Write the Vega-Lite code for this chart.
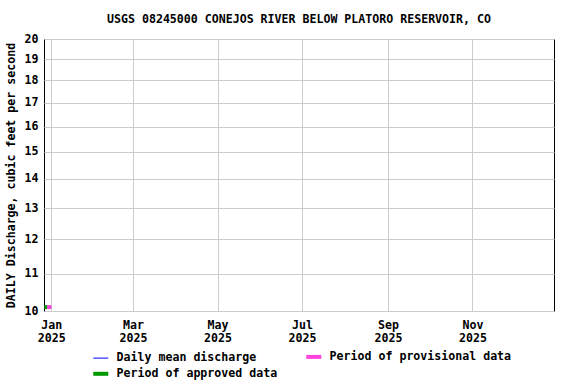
{
  "$schema": "https://vega.github.io/schema/vega-lite/v6.json",
  "width": 510,
  "height": 272,
  "autosize": {"type": "none"},
  "padding": {"left": 44, "top": 39, "right": 22, "bottom": 73},
  "background": "white",
  "config": {
    "view": {"stroke": "black", "strokeWidth": 1},
    "font": "DejaVu Sans Mono"
  },
  "title": {
    "text": "USGS 08245000 CONEJOS RIVER BELOW PLATORO RESERVOIR, CO",
    "font": "DejaVu Sans Mono",
    "fontSize": 11.6,
    "fontWeight": "bold",
    "color": "black",
    "offset": 7,
    "anchor": "middle"
  },
  "data": {
    "values": [
      {"date": "2024-12-27", "value": 10.1, "series": "Daily mean discharge"},
      {"date": "2024-12-28", "value": 10.1, "series": "Daily mean discharge"},
      {"date": "2024-12-29", "value": 10.1, "series": "Daily mean discharge"},
      {"date": "2024-12-30", "value": 10.1, "series": "Daily mean discharge"},
      {"date": "2024-12-31", "value": 10.1, "series": "Daily mean discharge"},
      {"date": "2025-01-01", "value": 10.1, "series": "Daily mean discharge"},
      {"date": "2024-12-27", "value": 10.1, "series": "Period of approved data"},
      {"date": "2024-12-29", "value": 10.1, "series": "Period of approved data"},
      {"date": "2024-12-29", "value": 10.1, "series": "Period of provisional data"},
      {"date": "2025-01-01", "value": 10.1, "series": "Period of provisional data"}
    ]
  },
  "mark": {"type": "line", "clip": true},
  "encoding": {
    "x": {
      "field": "date",
      "type": "temporal",
      "scale": {
        "type": "utc",
        "domain": [
          {"year": 2024, "month": 12, "date": 26, "hours": 18, "utc": true},
          {"year": 2025, "month": 12, "date": 29, "hours": 20, "utc": true}
        ]
      },
      "axis": {
        "title": null,
        "values": [
          {"year": 2025, "month": 1, "date": 1, "utc": true},
          {"year": 2025, "month": 3, "date": 1, "utc": true},
          {"year": 2025, "month": 5, "date": 1, "utc": true},
          {"year": 2025, "month": 7, "date": 1, "utc": true},
          {"year": 2025, "month": 9, "date": 1, "utc": true},
          {"year": 2025, "month": 11, "date": 1, "utc": true}
        ],
        "labelExpr": "[utcFormat(datum.value, '%b'), utcFormat(datum.value, '%Y')]",
        "labelFont": "DejaVu Sans Mono",
        "labelFontSize": 11.6,
        "labelFontWeight": "bold",
        "labelColor": "black",
        "labelLineHeight": 13,
        "labelPadding": 8,
        "labelFlush": false,
        "labelOverlap": false,
        "ticks": false,
        "domain": false,
        "grid": true,
        "gridColor": "#cccccc",
        "gridWidth": 1
      }
    },
    "y": {
      "field": "value",
      "type": "quantitative",
      "scale": {"type": "log", "domain": [10, 20], "nice": false},
      "axis": {
        "title": "DAILY Discharge, cubic feet per second",
        "titleFont": "DejaVu Sans Mono",
        "titleFontSize": 11.6,
        "titleFontWeight": "bold",
        "titleColor": "black",
        "titlePadding": 8,
        "values": [10, 11, 12, 13, 14, 15, 16, 17, 18, 19, 20],
        "labelExpr": "format(datum.value, 'd')",
        "labelFont": "DejaVu Sans Mono",
        "labelFontSize": 11.6,
        "labelFontWeight": "bold",
        "labelColor": "black",
        "labelPadding": 6,
        "labelOverlap": false,
        "labelFlush": false,
        "ticks": false,
        "domain": false,
        "grid": true,
        "gridColor": "#cccccc",
        "gridWidth": 1
      }
    },
    "color": {
      "field": "series",
      "type": "nominal",
      "scale": {
        "domain": ["Daily mean discharge", "Period of approved data", "Period of provisional data"],
        "range": ["#0000ff", "#009900", "#ff44dd"]
      },
      "legend": {
        "title": null,
        "orient": "none",
        "legendX": 51,
        "legendY": 312,
        "columns": 2,
        "columnPadding": 20,
        "rowPadding": 0,
        "symbolType": "stroke",
        "symbolSize": 225,
        "labelFont": "DejaVu Sans Mono",
        "labelFontSize": 11.6,
        "labelFontWeight": "bold",
        "labelColor": "black",
        "labelOffset": 10,
        "labelLimit": 300,
        "encode": {
          "symbols": {
            "update": {
              "strokeWidth": {"signal": "datum.label === 'Daily mean discharge' ? 1 : 4"}
            }
          }
        }
      }
    },
    "strokeWidth": {
      "condition": {"test": "datum.series === 'Daily mean discharge'", "value": 1},
      "value": 4
    },
    "order": {"field": "series", "type": "nominal"}
  }
}
